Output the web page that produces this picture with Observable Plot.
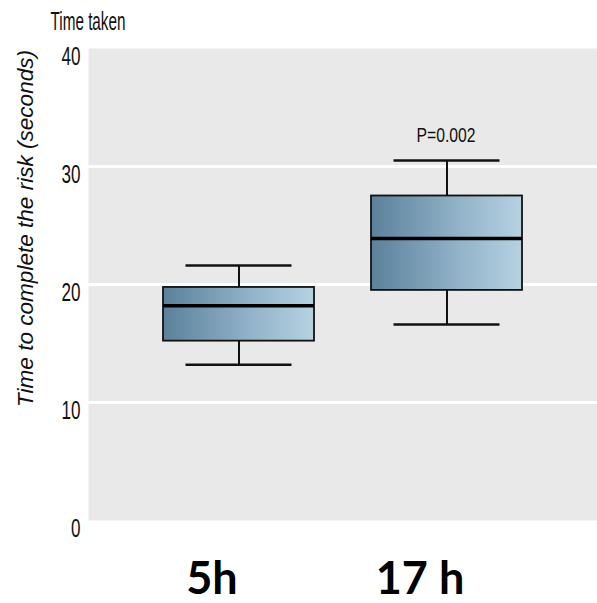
<!DOCTYPE html>
<html>
<head>
<meta charset="utf-8">
<script src="https://cdn.jsdelivr.net/npm/d3@7"></script>
<script src="https://cdn.jsdelivr.net/npm/@observablehq/plot@0.6"></script>
<style>
  html, body { margin: 0; padding: 0; background: #fff; }
  #chart svg { display: block; }
</style>
</head>
<body>
<div id="chart"></div>
<script>
// Data
const groups = ["5h", "17 h"];
const whiskerLow = [13.2, 16.6];
const q1 = [15.2, 19.5];
const median = [18.2, 23.9];
const q3 = [19.75, 27.5];
const whiskerHigh = [21.6, 30.5];
const yTicks = [0, 10, 20, 30, 40];
const gridValues = [10, 20, 30];
const annotations = [{group: "17 h", value: 32.6, label: "P=0.002"}];
const title = "Time taken";
const yLabel = "Time to complete the risk (seconds)";

const boxes = groups.map((g, i) => ({
  group: g, low: whiskerLow[i], q1: q1[i], median: median[i], q3: q3[i], high: whiskerHigh[i]
}));

const sans = "'Liberation Sans', Arial, Helvetica, sans-serif";

const chart = Plot.plot({
  width: 597,
  height: 603,
  marginLeft: 88,
  marginRight: 0,
  marginTop: 48,
  marginBottom: 83,
  style: {background: "white", fontFamily: sans},
  x: {domain: groups, paddingInner: 0.274, paddingOuter: 0.36, align: 0.5, axis: null},
  y: {domain: [0, 40], axis: null},
  marks: [
    Plot.frame({fill: "#e9e9e9", stroke: "none"}),
    Plot.gridY(gridValues, {stroke: "white", strokeWidth: 3, strokeOpacity: 1}),
    Plot.axisY(yTicks, {tickSize: 0, tickPadding: 8, dy: 8, fontSize: 26, fill: "#111", label: null, fontFamily: sans}),
    Plot.axisX({tickSize: 0, tickPadding: 42, dx: -27, fontSize: 45, fontWeight: "bold", fill: "#000", label: null, fontFamily: "Lato, 'Open Sans', sans-serif"}),
    Plot.ruleX(boxes, {x: "group", y1: "low", y2: "q1", stroke: "#111", strokeWidth: 2}),
    Plot.ruleX(boxes, {x: "group", y1: "q3", y2: "high", stroke: "#111", strokeWidth: 2}),
    Plot.tickY(boxes, {x: "group", y: "low", stroke: "#111", strokeWidth: 2.5, inset: 22.5}),
    Plot.tickY(boxes, {x: "group", y: "high", stroke: "#111", strokeWidth: 2.5, inset: 22.5}),
    Plot.barY(boxes, {x: "group", y1: "q1", y2: "q3", fill: "url(#boxGrad)", stroke: "#111", strokeWidth: 1.8}),
    Plot.tickY(boxes, {x: "group", y: "median", stroke: "#000", strokeWidth: 3.5}),
    Plot.text(annotations, {x: "group", y: "value", text: "label", fontSize: 20, fill: "#111", fontFamily: sans, dx: -1})
  ]
});

const svg = d3.select(chart);
const defs = svg.append("defs");
const grad = defs.append("linearGradient").attr("id", "boxGrad")
  .attr("x1", "0%").attr("x2", "100%").attr("y1", "0%").attr("y2", "0%");
grad.append("stop").attr("offset", "0%").attr("stop-color", "#5b819b");
grad.append("stop").attr("offset", "55%").attr("stop-color", "#8fb0c6");
grad.append("stop").attr("offset", "100%").attr("stop-color", "#b6d2e3");

// Condensed look: squeeze the narrow-font texts horizontally
svg.selectAll('g[aria-label="y-axis tick label"] text').each(function () {
  const t = d3.select(this);
  t.attr("textLength", t.text().length * 9.5).attr("lengthAdjust", "spacingAndGlyphs");
});
svg.selectAll('g[aria-label="text"] text')
  .attr("textLength", 59).attr("lengthAdjust", "spacingAndGlyphs");

svg.append("text")
  .attr("x", 88).attr("y", 30)
  .attr("font-family", sans).attr("font-size", 26).attr("fill", "#111")
  .attr("textLength", 75).attr("lengthAdjust", "spacingAndGlyphs")
  .text(title);

svg.append("text")
  .attr("transform", "translate(33,228.5) rotate(-90)")
  .attr("text-anchor", "middle")
  .attr("font-family", sans)
  .attr("font-style", "italic").attr("font-size", 22).attr("fill", "#111")
  .attr("textLength", 357).attr("lengthAdjust", "spacingAndGlyphs")
  .text(yLabel);

document.getElementById("chart").appendChild(chart);
</script>
</body>
</html>
